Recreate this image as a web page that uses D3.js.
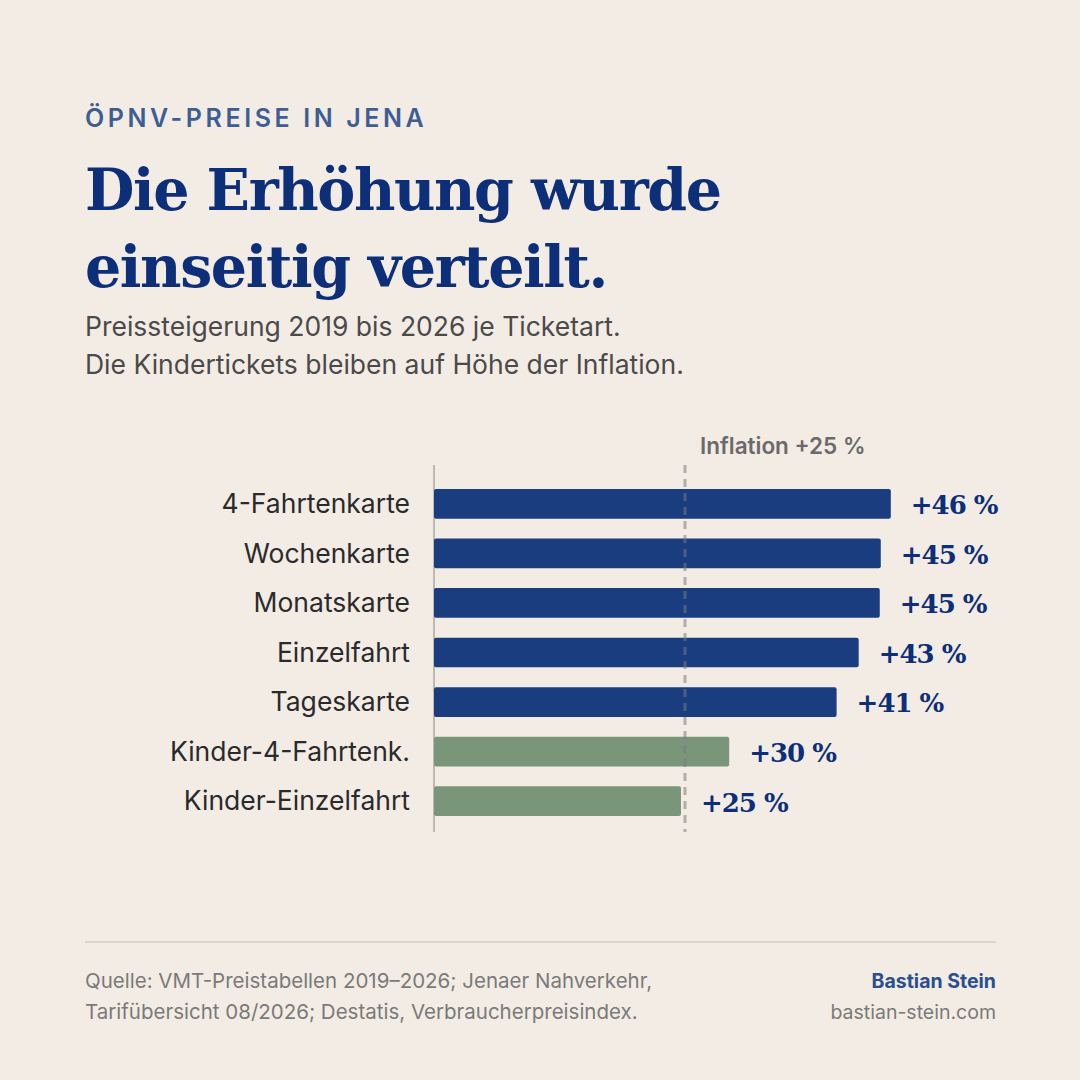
<!DOCTYPE html>
<html>
<head>
<meta charset="utf-8">
<script src="https://cdn.jsdelivr.net/npm/d3@7"></script>
<style>
  body { margin: 0; background: #f2ece4; }
  svg { display: block; }
</style>
</head>
<body>
<svg id="chart" width="1080" height="1080"></svg>
<script>
const data = [
  { name: '4-Fahrtenkarte', value: 45.5, label: '+46 %', kind: 'adult' },
  { name: 'Wochenkarte', value: 44.5, label: '+45 %', kind: 'adult' },
  { name: 'Monatskarte', value: 44.4, label: '+45 %', kind: 'adult' },
  { name: 'Einzelfahrt', value: 42.3, label: '+43 %', kind: 'adult' },
  { name: 'Tageskarte', value: 40.1, label: '+41 %', kind: 'adult' },
  { name: 'Kinder-4-Fahrtenk.', value: 29.4, label: '+30 %', kind: 'kid' },
  { name: 'Kinder-Einzelfahrt', value: 24.6, label: '+25 %', kind: 'kid' }
];
const inflation = 25;
const color = { adult: '#1a3d80', kid: '#7a967a' };
const serif = '"DejaVu Serif", serif';
const sans = 'Inter, "Noto Sans", sans-serif';

const svg = d3.select('#chart');
svg.append('rect').attr('width', 1080).attr('height', 1080).attr('fill', '#f2ece4');

// header
svg.append('text').attr('x', 85).attr('y', 127).text('ÖPNV-PREISE IN JENA')
  .attr('font-family', sans).attr('font-weight', 600).attr('font-size', 25)
  .attr('letter-spacing', 3.6).attr('fill', '#3d5e94');
['Die Erhöhung wurde', 'einseitig verteilt.'].forEach((t, i) => {
  svg.append('text').attr('x', 85).attr('y', 210 + i * 77).text(t)
    .attr('font-family', serif).attr('font-weight', 700).attr('font-size', 57)
    .attr('letter-spacing', -1.4).attr('fill', '#0d2e78');
});
['Preissteigerung 2019 bis 2026 je Ticketart.', 'Die Kindertickets bleiben auf Höhe der Inflation.'].forEach((t, i) => {
  svg.append('text').attr('x', 85).attr('y', 336 + i * 38).text(t)
    .attr('font-family', sans).attr('font-size', 26.5).attr('fill', '#4a4a4a');
});

// chart
const x = d3.scaleLinear().domain([0, 25]).range([434, 685]);
const y = d3.scaleBand().domain(data.map(d => d.name)).range([479, 826])
  .paddingInner(0.4).paddingOuter(0.2);

svg.append('line').attr('x1', x(0)).attr('x2', x(0)).attr('y1', 465).attr('y2', 832)
  .attr('stroke', '#bdbab4').attr('stroke-width', 2);

svg.selectAll('rect.bar').data(data).enter().append('rect')
  .attr('class', 'bar')
  .attr('x', x(0)).attr('y', d => y(d.name))
  .attr('width', d => x(d.value) - x(0)).attr('height', y.bandwidth())
  .attr('rx', 2).attr('fill', d => color[d.kind]);

svg.append('line').attr('x1', x(inflation)).attr('x2', x(inflation)).attr('y1', 465).attr('y2', 832)
  .attr('stroke', '#7a7a7a').attr('stroke-opacity', 0.55).attr('stroke-width', 3)
  .attr('stroke-dasharray', '8,6');
svg.append('text').attr('x', x(inflation) + 15).attr('y', 454).text('Inflation +25 %')
  .attr('font-family', sans).attr('font-weight', 600).attr('font-size', 22.5).attr('fill', '#6a6a6a');

svg.selectAll('text.name').data(data).enter().append('text')
  .attr('class', 'name')
  .attr('x', 410).attr('y', d => y(d.name) + y.bandwidth() / 2)
  .attr('dy', '0.35em').attr('text-anchor', 'end').text(d => d.name)
  .attr('font-family', sans).attr('font-size', 26.5).attr('fill', '#2a2a2a');

svg.selectAll('text.val').data(data).enter().append('text')
  .attr('class', 'val')
  .attr('x', d => x(d.value) + 20).attr('y', d => y(d.name) + y.bandwidth() / 2)
  .attr('dy', '0.4em').text(d => d.label)
  .attr('font-family', serif).attr('font-weight', 700).attr('font-size', 26)
  .attr('letter-spacing', -1).attr('fill', '#0d2e78');

// footer
svg.append('line').attr('x1', 85).attr('x2', 996).attr('y1', 942).attr('y2', 942)
  .attr('stroke', '#d2ccc4').attr('stroke-width', 1.5);
['Quelle: VMT-Preistabellen 2019–2026; Jenaer Nahverkehr,', 'Tarifübersicht 08/2026; Destatis, Verbraucherpreisindex.'].forEach((t, i) => {
  svg.append('text').attr('x', 85).attr('y', 988 + i * 31).text(t)
    .attr('font-family', sans).attr('font-size', 20.5).attr('fill', '#7a7a7a');
});
svg.append('text').attr('x', 996).attr('y', 988).attr('text-anchor', 'end').text('Bastian Stein')
  .attr('font-family', sans).attr('font-weight', 700).attr('font-size', 19.5).attr('fill', '#2a4f8f');
svg.append('text').attr('x', 996).attr('y', 1019).attr('text-anchor', 'end').text('bastian-stein.com')
  .attr('font-family', sans).attr('font-size', 19.5).attr('fill', '#7a7a7a');
</script>
</body>
</html>
